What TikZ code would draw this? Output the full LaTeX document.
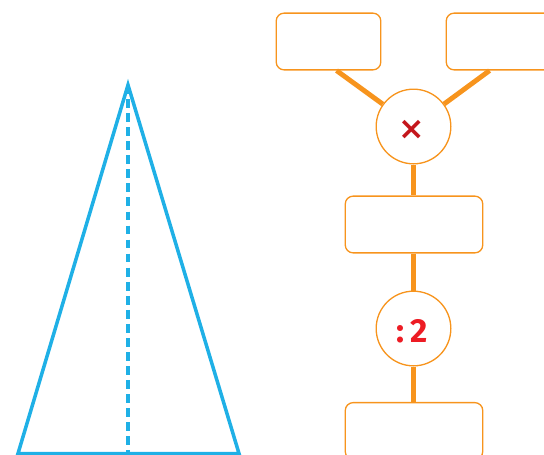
\documentclass[tikz,border=0pt]{standalone}
\usepackage{fontspec}
\setmainfont{Fira Sans}
\newfontfamily\symfont{DejaVu Sans}
\usetikzlibrary{calc}
\definecolor{orng}{HTML}{F7941D}
\definecolor{skyb}{HTML}{1FB0E6}
\definecolor{dred}{HTML}{C4161C}
\definecolor{bred}{HTML}{ED1C24}
\tikzset{
  box/.style={draw=orng, line width=0.75pt, rounded corners=4.5pt, fill=white, inner sep=0pt},
  opcirc/.style={circle, draw=orng, line width=0.75pt, fill=white, minimum size=42.5pt, inner sep=0pt},
  link/.style={draw=orng, line width=2.8pt},
  tri/.style={draw=skyb, line width=2pt, line join=miter},
  axis/.style={draw=skyb, line width=1.8pt, dash pattern=on 5pt off 3pt}
}
\begin{document}
\begin{tikzpicture}[x=0.02cm, y=-0.02cm]
\useasboundingbox (0,0) rectangle (544,454);
% triangle
\coordinate (A) at (128,85);
\coordinate (B) at (18,453.5);
\coordinate (C) at (239,453.5);
\coordinate (H) at (128,453.5);
\draw[axis] (A) -- (H);
\draw[tri] (B) -- (A) -- (C) -- cycle;
% boxes
\node[box, minimum width=105*0.567pt, minimum height=57*0.567pt] (tl) at (328.5,41.5) {};
\node[box, minimum width=120*0.567pt, minimum height=57*0.567pt] (tr) at (506,41.5) {};
\node[box, minimum width=138*0.567pt, minimum height=57*0.567pt] (mb) at (414,224.5) {};
\node[box, minimum width=138*0.567pt, minimum height=57*0.567pt] (bb) at (414,431) {};
% circles
\node[opcirc] (c1) at (413.5,126.5) {};
\node[opcirc] (c2) at (413.5,328.5) {};
% connectors
\coordinate (tlp) at ($(tl.south west)+(61,0)$);
\coordinate (trp) at ($(tr.south west)+(44,0)$);
\draw[link] (tlp) -- (c1);
\draw[link] (trp) -- (c1);
\draw[link] (c1) -- (c1 |- mb.north);
\draw[link] (c2 |- mb.south) -- (c2);
\draw[link] (c2) -- (c2 |- bb.north);
% labels
\node[text=dred, font=\symfont\bfseries\fontsize{18pt}{18pt}\selectfont, inner sep=0pt] (xl) at (412,130) {×};
\node[text=bred, font=\bfseries\fontsize{19pt}{19pt}\selectfont, inner sep=0pt, anchor=base] (dl) at (412,342) {:\,2};
\end{tikzpicture}
\end{document}
